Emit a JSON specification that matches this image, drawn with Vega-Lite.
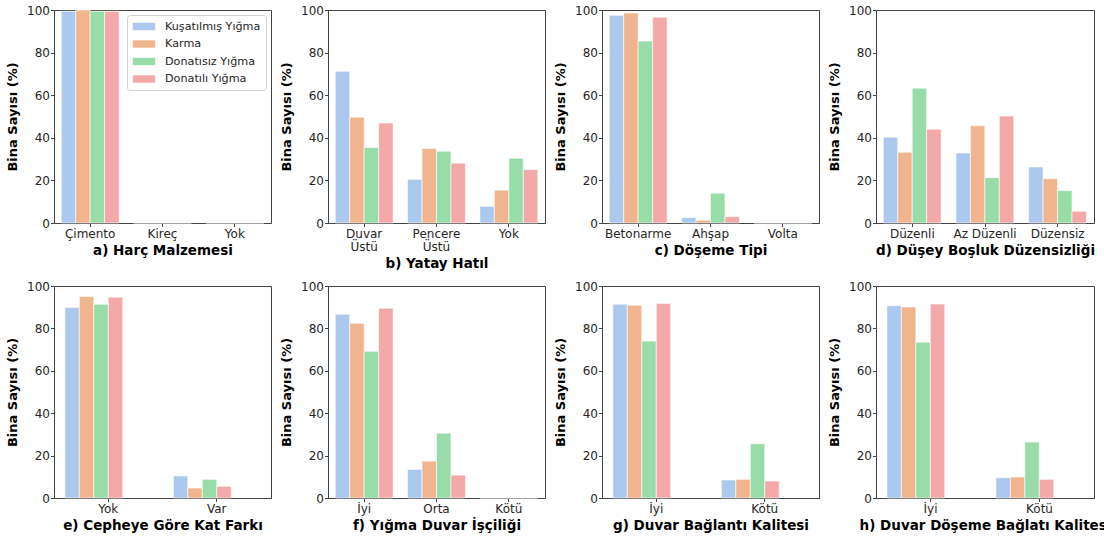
{
  "$schema": "https://vega.github.io/schema/vega-lite/v6.json",
  "background": "white",
  "padding": {"left": 6, "top": 3, "right": 5, "bottom": 5},
  "config": {
    "font": "DejaVu Sans",
    "view": {"stroke": "#444444", "strokeWidth": 1},
    "axis": {"grid": false, "domainColor": "#444444", "tickColor": "#444444", "labelColor": "#262626", "labelFontSize": 12, "titleFontSize": 13.5, "titleFontWeight": "bold", "titleColor": "black", "tickSize": 3.5, "labelPadding": 1},
    "axisX": {"labelAngle": 0, "titlePadding": 4, "labelPadding": 2, "labelLineHeight": 13},
    "axisY": {"titlePadding": 7, "titleFontSize": 13},
    "bar": {"stroke": "white", "strokeWidth": 0.6},
    "legend": {"orient": "none", "legendX": 73, "legendY": 5, "title": null, "strokeColor": "#d0d0d0", "fillColor": "white", "cornerRadius": 3, "padding": 5, "labelFontSize": 11.2, "labelColor": "#262626", "symbolType": "M-1,-0.667H2.83V0.667H-1Z", "symbolSize": 144, "symbolStrokeWidth": 0, "symbolOpacity": 1, "labelOffset": 20, "rowPadding": 5.5, "labelLimit": 0}
  },
  "data": {"values": [
    {"panel": "a", "category": "Çimento", "type": "Kuşatılmış Yığma", "value": 99.4},
    {"panel": "a", "category": "Çimento", "type": "Karma", "value": 100},
    {"panel": "a", "category": "Çimento", "type": "Donatısız Yığma", "value": 99.4},
    {"panel": "a", "category": "Çimento", "type": "Donatılı Yığma", "value": 99.4},
    {"panel": "a", "category": "Kireç", "type": "Kuşatılmış Yığma", "value": 0},
    {"panel": "a", "category": "Kireç", "type": "Karma", "value": 0},
    {"panel": "a", "category": "Kireç", "type": "Donatısız Yığma", "value": 0},
    {"panel": "a", "category": "Kireç", "type": "Donatılı Yığma", "value": 0},
    {"panel": "a", "category": "Yok", "type": "Kuşatılmış Yığma", "value": 0},
    {"panel": "a", "category": "Yok", "type": "Karma", "value": 0},
    {"panel": "a", "category": "Yok", "type": "Donatısız Yığma", "value": 0},
    {"panel": "a", "category": "Yok", "type": "Donatılı Yığma", "value": 0},
    {"panel": "b", "category": "Duvar Üstü", "type": "Kuşatılmış Yığma", "value": 71.2},
    {"panel": "b", "category": "Duvar Üstü", "type": "Karma", "value": 49.7},
    {"panel": "b", "category": "Duvar Üstü", "type": "Donatısız Yığma", "value": 35.4},
    {"panel": "b", "category": "Duvar Üstü", "type": "Donatılı Yığma", "value": 46.9},
    {"panel": "b", "category": "Pencere Üstü", "type": "Kuşatılmış Yığma", "value": 20.5},
    {"panel": "b", "category": "Pencere Üstü", "type": "Karma", "value": 35.0},
    {"panel": "b", "category": "Pencere Üstü", "type": "Donatısız Yığma", "value": 33.7},
    {"panel": "b", "category": "Pencere Üstü", "type": "Donatılı Yığma", "value": 28.1},
    {"panel": "b", "category": "Yok", "type": "Kuşatılmış Yığma", "value": 7.8},
    {"panel": "b", "category": "Yok", "type": "Karma", "value": 15.4},
    {"panel": "b", "category": "Yok", "type": "Donatısız Yığma", "value": 30.4},
    {"panel": "b", "category": "Yok", "type": "Donatılı Yığma", "value": 25.1},
    {"panel": "c", "category": "Betonarme", "type": "Kuşatılmış Yığma", "value": 97.5},
    {"panel": "c", "category": "Betonarme", "type": "Karma", "value": 98.6},
    {"panel": "c", "category": "Betonarme", "type": "Donatısız Yığma", "value": 85.4},
    {"panel": "c", "category": "Betonarme", "type": "Donatılı Yığma", "value": 96.6},
    {"panel": "c", "category": "Ahşap", "type": "Kuşatılmış Yığma", "value": 2.5},
    {"panel": "c", "category": "Ahşap", "type": "Karma", "value": 1.3},
    {"panel": "c", "category": "Ahşap", "type": "Donatısız Yığma", "value": 14.0},
    {"panel": "c", "category": "Ahşap", "type": "Donatılı Yığma", "value": 3.0},
    {"panel": "c", "category": "Volta", "type": "Kuşatılmış Yığma", "value": 0},
    {"panel": "c", "category": "Volta", "type": "Karma", "value": 0},
    {"panel": "c", "category": "Volta", "type": "Donatısız Yığma", "value": 0},
    {"panel": "c", "category": "Volta", "type": "Donatılı Yığma", "value": 0},
    {"panel": "d", "category": "Düzenli", "type": "Kuşatılmış Yığma", "value": 40.3},
    {"panel": "d", "category": "Düzenli", "type": "Karma", "value": 33.2},
    {"panel": "d", "category": "Düzenli", "type": "Donatısız Yığma", "value": 63.3},
    {"panel": "d", "category": "Düzenli", "type": "Donatılı Yığma", "value": 44.0},
    {"panel": "d", "category": "Az Düzenli", "type": "Kuşatılmış Yığma", "value": 32.9},
    {"panel": "d", "category": "Az Düzenli", "type": "Karma", "value": 45.6},
    {"panel": "d", "category": "Az Düzenli", "type": "Donatısız Yığma", "value": 21.3},
    {"panel": "d", "category": "Az Düzenli", "type": "Donatılı Yığma", "value": 50.2},
    {"panel": "d", "category": "Düzensiz", "type": "Kuşatılmış Yığma", "value": 26.3},
    {"panel": "d", "category": "Düzensiz", "type": "Karma", "value": 20.8},
    {"panel": "d", "category": "Düzensiz", "type": "Donatısız Yığma", "value": 15.2},
    {"panel": "d", "category": "Düzensiz", "type": "Donatılı Yığma", "value": 5.5},
    {"panel": "e", "category": "Yok", "type": "Kuşatılmış Yığma", "value": 89.8},
    {"panel": "e", "category": "Yok", "type": "Karma", "value": 95.1},
    {"panel": "e", "category": "Yok", "type": "Donatısız Yığma", "value": 91.4},
    {"panel": "e", "category": "Yok", "type": "Donatılı Yığma", "value": 94.7},
    {"panel": "e", "category": "Var", "type": "Kuşatılmış Yığma", "value": 10.4},
    {"panel": "e", "category": "Var", "type": "Karma", "value": 4.7},
    {"panel": "e", "category": "Var", "type": "Donatısız Yığma", "value": 8.8},
    {"panel": "e", "category": "Var", "type": "Donatılı Yığma", "value": 5.5},
    {"panel": "f", "category": "İyi", "type": "Kuşatılmış Yığma", "value": 86.7},
    {"panel": "f", "category": "İyi", "type": "Karma", "value": 82.4},
    {"panel": "f", "category": "İyi", "type": "Donatısız Yığma", "value": 69.2},
    {"panel": "f", "category": "İyi", "type": "Donatılı Yığma", "value": 89.5},
    {"panel": "f", "category": "Orta", "type": "Kuşatılmış Yığma", "value": 13.5},
    {"panel": "f", "category": "Orta", "type": "Karma", "value": 17.4},
    {"panel": "f", "category": "Orta", "type": "Donatısız Yığma", "value": 30.6},
    {"panel": "f", "category": "Orta", "type": "Donatılı Yığma", "value": 10.8},
    {"panel": "f", "category": "Kötü", "type": "Kuşatılmış Yığma", "value": 0},
    {"panel": "f", "category": "Kötü", "type": "Karma", "value": 0},
    {"panel": "f", "category": "Kötü", "type": "Donatısız Yığma", "value": 0},
    {"panel": "f", "category": "Kötü", "type": "Donatılı Yığma", "value": 0},
    {"panel": "g", "category": "İyi", "type": "Kuşatılmış Yığma", "value": 91.4},
    {"panel": "g", "category": "İyi", "type": "Karma", "value": 90.9},
    {"panel": "g", "category": "İyi", "type": "Donatısız Yığma", "value": 74.0},
    {"panel": "g", "category": "İyi", "type": "Donatılı Yığma", "value": 91.7},
    {"panel": "g", "category": "Kötü", "type": "Kuşatılmış Yığma", "value": 8.5},
    {"panel": "g", "category": "Kötü", "type": "Karma", "value": 8.8},
    {"panel": "g", "category": "Kötü", "type": "Donatısız Yığma", "value": 25.6},
    {"panel": "g", "category": "Kötü", "type": "Donatılı Yığma", "value": 8.0},
    {"panel": "h", "category": "İyi", "type": "Kuşatılmış Yığma", "value": 90.7},
    {"panel": "h", "category": "İyi", "type": "Karma", "value": 90.1},
    {"panel": "h", "category": "İyi", "type": "Donatısız Yığma", "value": 73.5},
    {"panel": "h", "category": "İyi", "type": "Donatılı Yığma", "value": 91.5},
    {"panel": "h", "category": "Kötü", "type": "Kuşatılmış Yığma", "value": 9.6},
    {"panel": "h", "category": "Kötü", "type": "Karma", "value": 9.9},
    {"panel": "h", "category": "Kötü", "type": "Donatısız Yığma", "value": 26.4},
    {"panel": "h", "category": "Kötü", "type": "Donatılı Yığma", "value": 8.8}
  ]},
  "columns": 4,
  "spacing": {"row": 63, "column": 57},
  "bounds": "flush",
  "resolve": {"scale": {"x": "independent", "y": "independent"}},
  "concat": [
    {"width": 217, "height": 213, "transform": [{"filter": "datum.panel == 'a'"}], "mark": "bar",
     "encoding": {
       "x": {"field": "category", "type": "nominal", "sort": null, "title": "a) Harç Malzemesi", "scale": {"paddingInner": 0.2, "paddingOuter": 0.1}},
       "xOffset": {"field": "type", "type": "nominal", "sort": ["Kuşatılmış Yığma", "Karma", "Donatısız Yığma", "Donatılı Yığma"], "scale": {"paddingInner": 0, "paddingOuter": 0}},
       "y": {"field": "value", "type": "quantitative", "title": "Bina Sayısı (%)", "scale": {"domain": [0, 100], "nice": false}, "axis": {"values": [0, 20, 40, 60, 80, 100]}},
       "color": {"field": "type", "type": "nominal", "title": null, "scale": {"domain": ["Kuşatılmış Yığma", "Karma", "Donatısız Yığma", "Donatılı Yığma"], "range": ["#abc9ee", "#f0b58f", "#98dca8", "#f3a9a8"]}}
     }},
    {"width": 217, "height": 213, "transform": [{"filter": "datum.panel == 'b'"}], "mark": "bar",
     "encoding": {
       "x": {"field": "category", "type": "nominal", "sort": null, "title": "b) Yatay Hatıl", "scale": {"paddingInner": 0.2, "paddingOuter": 0.1}, "axis": {"labelExpr": "split(datum.label, ' ')"}},
       "xOffset": {"field": "type", "type": "nominal", "sort": ["Kuşatılmış Yığma", "Karma", "Donatısız Yığma", "Donatılı Yığma"], "scale": {"paddingInner": 0, "paddingOuter": 0}},
       "y": {"field": "value", "type": "quantitative", "title": "Bina Sayısı (%)", "scale": {"domain": [0, 100], "nice": false}, "axis": {"values": [0, 20, 40, 60, 80, 100]}},
       "color": {"field": "type", "type": "nominal", "title": null, "scale": {"domain": ["Kuşatılmış Yığma", "Karma", "Donatısız Yığma", "Donatılı Yığma"], "range": ["#abc9ee", "#f0b58f", "#98dca8", "#f3a9a8"]}}
     }},
    {"width": 217, "height": 213, "transform": [{"filter": "datum.panel == 'c'"}], "mark": "bar",
     "encoding": {
       "x": {"field": "category", "type": "nominal", "sort": null, "title": "c) Döşeme Tipi", "scale": {"paddingInner": 0.2, "paddingOuter": 0.1}},
       "xOffset": {"field": "type", "type": "nominal", "sort": ["Kuşatılmış Yığma", "Karma", "Donatısız Yığma", "Donatılı Yığma"], "scale": {"paddingInner": 0, "paddingOuter": 0}},
       "y": {"field": "value", "type": "quantitative", "title": "Bina Sayısı (%)", "scale": {"domain": [0, 100], "nice": false}, "axis": {"values": [0, 20, 40, 60, 80, 100]}},
       "color": {"field": "type", "type": "nominal", "title": null, "scale": {"domain": ["Kuşatılmış Yığma", "Karma", "Donatısız Yığma", "Donatılı Yığma"], "range": ["#abc9ee", "#f0b58f", "#98dca8", "#f3a9a8"]}}
     }},
    {"width": 218, "height": 213, "transform": [{"filter": "datum.panel == 'd'"}], "mark": "bar",
     "encoding": {
       "x": {"field": "category", "type": "nominal", "sort": null, "title": "d) Düşey Boşluk Düzensizliği", "scale": {"paddingInner": 0.2, "paddingOuter": 0.1}},
       "xOffset": {"field": "type", "type": "nominal", "sort": ["Kuşatılmış Yığma", "Karma", "Donatısız Yığma", "Donatılı Yığma"], "scale": {"paddingInner": 0, "paddingOuter": 0}},
       "y": {"field": "value", "type": "quantitative", "title": "Bina Sayısı (%)", "scale": {"domain": [0, 100], "nice": false}, "axis": {"values": [0, 20, 40, 60, 80, 100]}},
       "color": {"field": "type", "type": "nominal", "title": null, "scale": {"domain": ["Kuşatılmış Yığma", "Karma", "Donatısız Yığma", "Donatılı Yığma"], "range": ["#abc9ee", "#f0b58f", "#98dca8", "#f3a9a8"]}}
     }},
    {"width": 217, "height": 212, "transform": [{"filter": "datum.panel == 'e'"}], "mark": "bar",
     "encoding": {
       "x": {"field": "category", "type": "nominal", "sort": null, "title": "e) Cepheye Göre Kat Farkı", "scale": {"paddingInner": 0.2, "paddingOuter": 0.1}},
       "xOffset": {"field": "type", "type": "nominal", "sort": ["Kuşatılmış Yığma", "Karma", "Donatısız Yığma", "Donatılı Yığma"], "scale": {"paddingInner": 0, "paddingOuter": 0}},
       "y": {"field": "value", "type": "quantitative", "title": "Bina Sayısı (%)", "scale": {"domain": [0, 100], "nice": false}, "axis": {"values": [0, 20, 40, 60, 80, 100]}},
       "color": {"field": "type", "type": "nominal", "title": null, "scale": {"domain": ["Kuşatılmış Yığma", "Karma", "Donatısız Yığma", "Donatılı Yığma"], "range": ["#abc9ee", "#f0b58f", "#98dca8", "#f3a9a8"]}}
     }},
    {"width": 217, "height": 212, "transform": [{"filter": "datum.panel == 'f'"}], "mark": "bar",
     "encoding": {
       "x": {"field": "category", "type": "nominal", "sort": null, "title": "f) Yığma Duvar İşçiliği", "scale": {"paddingInner": 0.2, "paddingOuter": 0.1}},
       "xOffset": {"field": "type", "type": "nominal", "sort": ["Kuşatılmış Yığma", "Karma", "Donatısız Yığma", "Donatılı Yığma"], "scale": {"paddingInner": 0, "paddingOuter": 0}},
       "y": {"field": "value", "type": "quantitative", "title": "Bina Sayısı (%)", "scale": {"domain": [0, 100], "nice": false}, "axis": {"values": [0, 20, 40, 60, 80, 100]}},
       "color": {"field": "type", "type": "nominal", "title": null, "scale": {"domain": ["Kuşatılmış Yığma", "Karma", "Donatısız Yığma", "Donatılı Yığma"], "range": ["#abc9ee", "#f0b58f", "#98dca8", "#f3a9a8"]}}
     }},
    {"width": 217, "height": 212, "transform": [{"filter": "datum.panel == 'g'"}], "mark": "bar",
     "encoding": {
       "x": {"field": "category", "type": "nominal", "sort": null, "title": "g) Duvar Bağlantı Kalitesi", "scale": {"paddingInner": 0.2, "paddingOuter": 0.1}},
       "xOffset": {"field": "type", "type": "nominal", "sort": ["Kuşatılmış Yığma", "Karma", "Donatısız Yığma", "Donatılı Yığma"], "scale": {"paddingInner": 0, "paddingOuter": 0}},
       "y": {"field": "value", "type": "quantitative", "title": "Bina Sayısı (%)", "scale": {"domain": [0, 100], "nice": false}, "axis": {"values": [0, 20, 40, 60, 80, 100]}},
       "color": {"field": "type", "type": "nominal", "title": null, "scale": {"domain": ["Kuşatılmış Yığma", "Karma", "Donatısız Yığma", "Donatılı Yığma"], "range": ["#abc9ee", "#f0b58f", "#98dca8", "#f3a9a8"]}}
     }},
    {"width": 218, "height": 212, "transform": [{"filter": "datum.panel == 'h'"}], "mark": "bar",
     "encoding": {
       "x": {"field": "category", "type": "nominal", "sort": null, "title": "h) Duvar Döşeme Bağlatı Kalitesi", "scale": {"paddingInner": 0.2, "paddingOuter": 0.1}},
       "xOffset": {"field": "type", "type": "nominal", "sort": ["Kuşatılmış Yığma", "Karma", "Donatısız Yığma", "Donatılı Yığma"], "scale": {"paddingInner": 0, "paddingOuter": 0}},
       "y": {"field": "value", "type": "quantitative", "title": "Bina Sayısı (%)", "scale": {"domain": [0, 100], "nice": false}, "axis": {"values": [0, 20, 40, 60, 80, 100]}},
       "color": {"field": "type", "type": "nominal", "title": null, "scale": {"domain": ["Kuşatılmış Yığma", "Karma", "Donatısız Yığma", "Donatılı Yığma"], "range": ["#abc9ee", "#f0b58f", "#98dca8", "#f3a9a8"]}}
     }}
  ]
}
